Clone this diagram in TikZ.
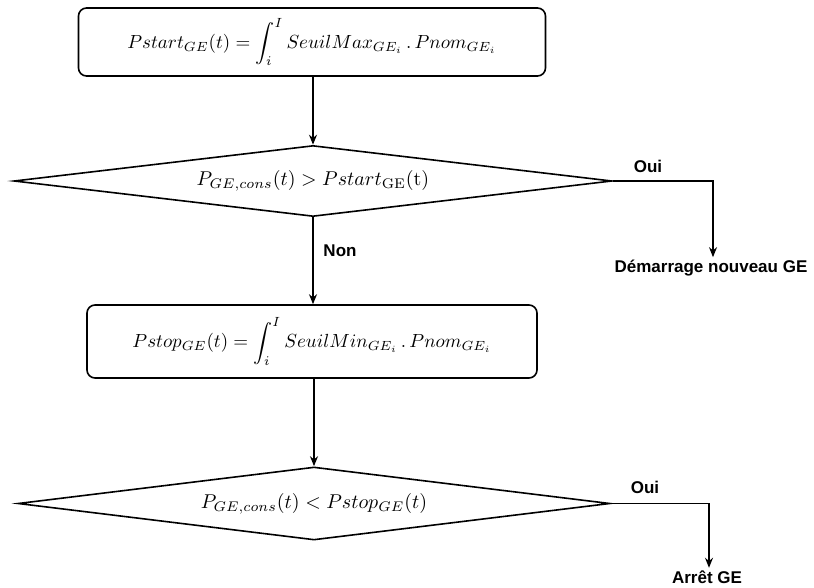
\documentclass[tikz,border=0pt]{standalone}
\usepackage{graphicx}
\usepackage{fontspec}
\setsansfont{Liberation Sans}
\usetikzlibrary{shapes.geometric,arrows.meta}
\newcommand{\bigmath}[1]{\scalebox{1.9}{#1}}
\newcommand{\dmath}[1]{\scalebox{2.0}{#1}}
\begin{document}
\begin{tikzpicture}[x=1pt,y=-1pt,
  line width=1.6pt,
  procbox/.style={draw,rounded corners=8pt,inner sep=0pt},
  decision/.style={draw,diamond,inner sep=0pt},
  lbl/.style={font=\sffamily\bfseries\fontsize{17}{20}\selectfont,inner sep=2pt},
  arr/.style={-{Stealth[length=10pt,width=8pt]},line width=1.4pt}]
\useasboundingbox (0,0) rectangle (814,587);
\node[procbox,minimum width=467pt,minimum height=68pt] (b1) at (312,42)
  {\bigmath{$\displaystyle Pstart_{GE}(t)=\int_i^I SeuilMax_{GE_i}\,.\,Pnom_{GE_i}$}};
\node[decision,aspect=8.45,minimum width=598pt,minimum height=71pt] (d1) at (313,181)
  {\dmath{$P_{GE,cons}(t) > Pstart_{\mathrm{GE}}(\mathrm{t})$}};
\node[procbox,minimum width=450pt,minimum height=73pt] (b2) at (312,341.5)
  {\bigmath{$\displaystyle Pstop_{GE}(t)=\int_i^I SeuilMin_{GE_i}\,.\,Pnom_{GE_i}$}};
\node[decision,aspect=8.14,minimum width=592pt,minimum height=73pt] (d2) at (314,503.5)
  {\dmath{$P_{GE,cons}(t) < Pstop_{GE}(t)$}};
\node[lbl] (oui1) at (648,166) {Oui};
\node[lbl] (non) at (340,251) {Non};
\node[lbl] (dem) at (711,268) {Démarrage nouveau GE};
\node[lbl] (oui2) at (645,487) {Oui};
\node[lbl] (arret) at (707,577) {Arrêt GE};
\coordinate (c1) at (713,181);
\coordinate (c2) at (709,503.5);
\draw[arr] (b1.south -| d1.north) -- (d1.north);
\draw[arr] (d1.south) -- (b2.north -| d1.south);
\draw[arr] (b2.south -| d2.north) -- (d2.north);
\draw[arr] (d1.east) -- (c1) -- (c1 |- dem.north);
\draw[arr] (d2.east) -- (c2) -- (c2 |- arret.north);
\end{tikzpicture}
\end{document}
